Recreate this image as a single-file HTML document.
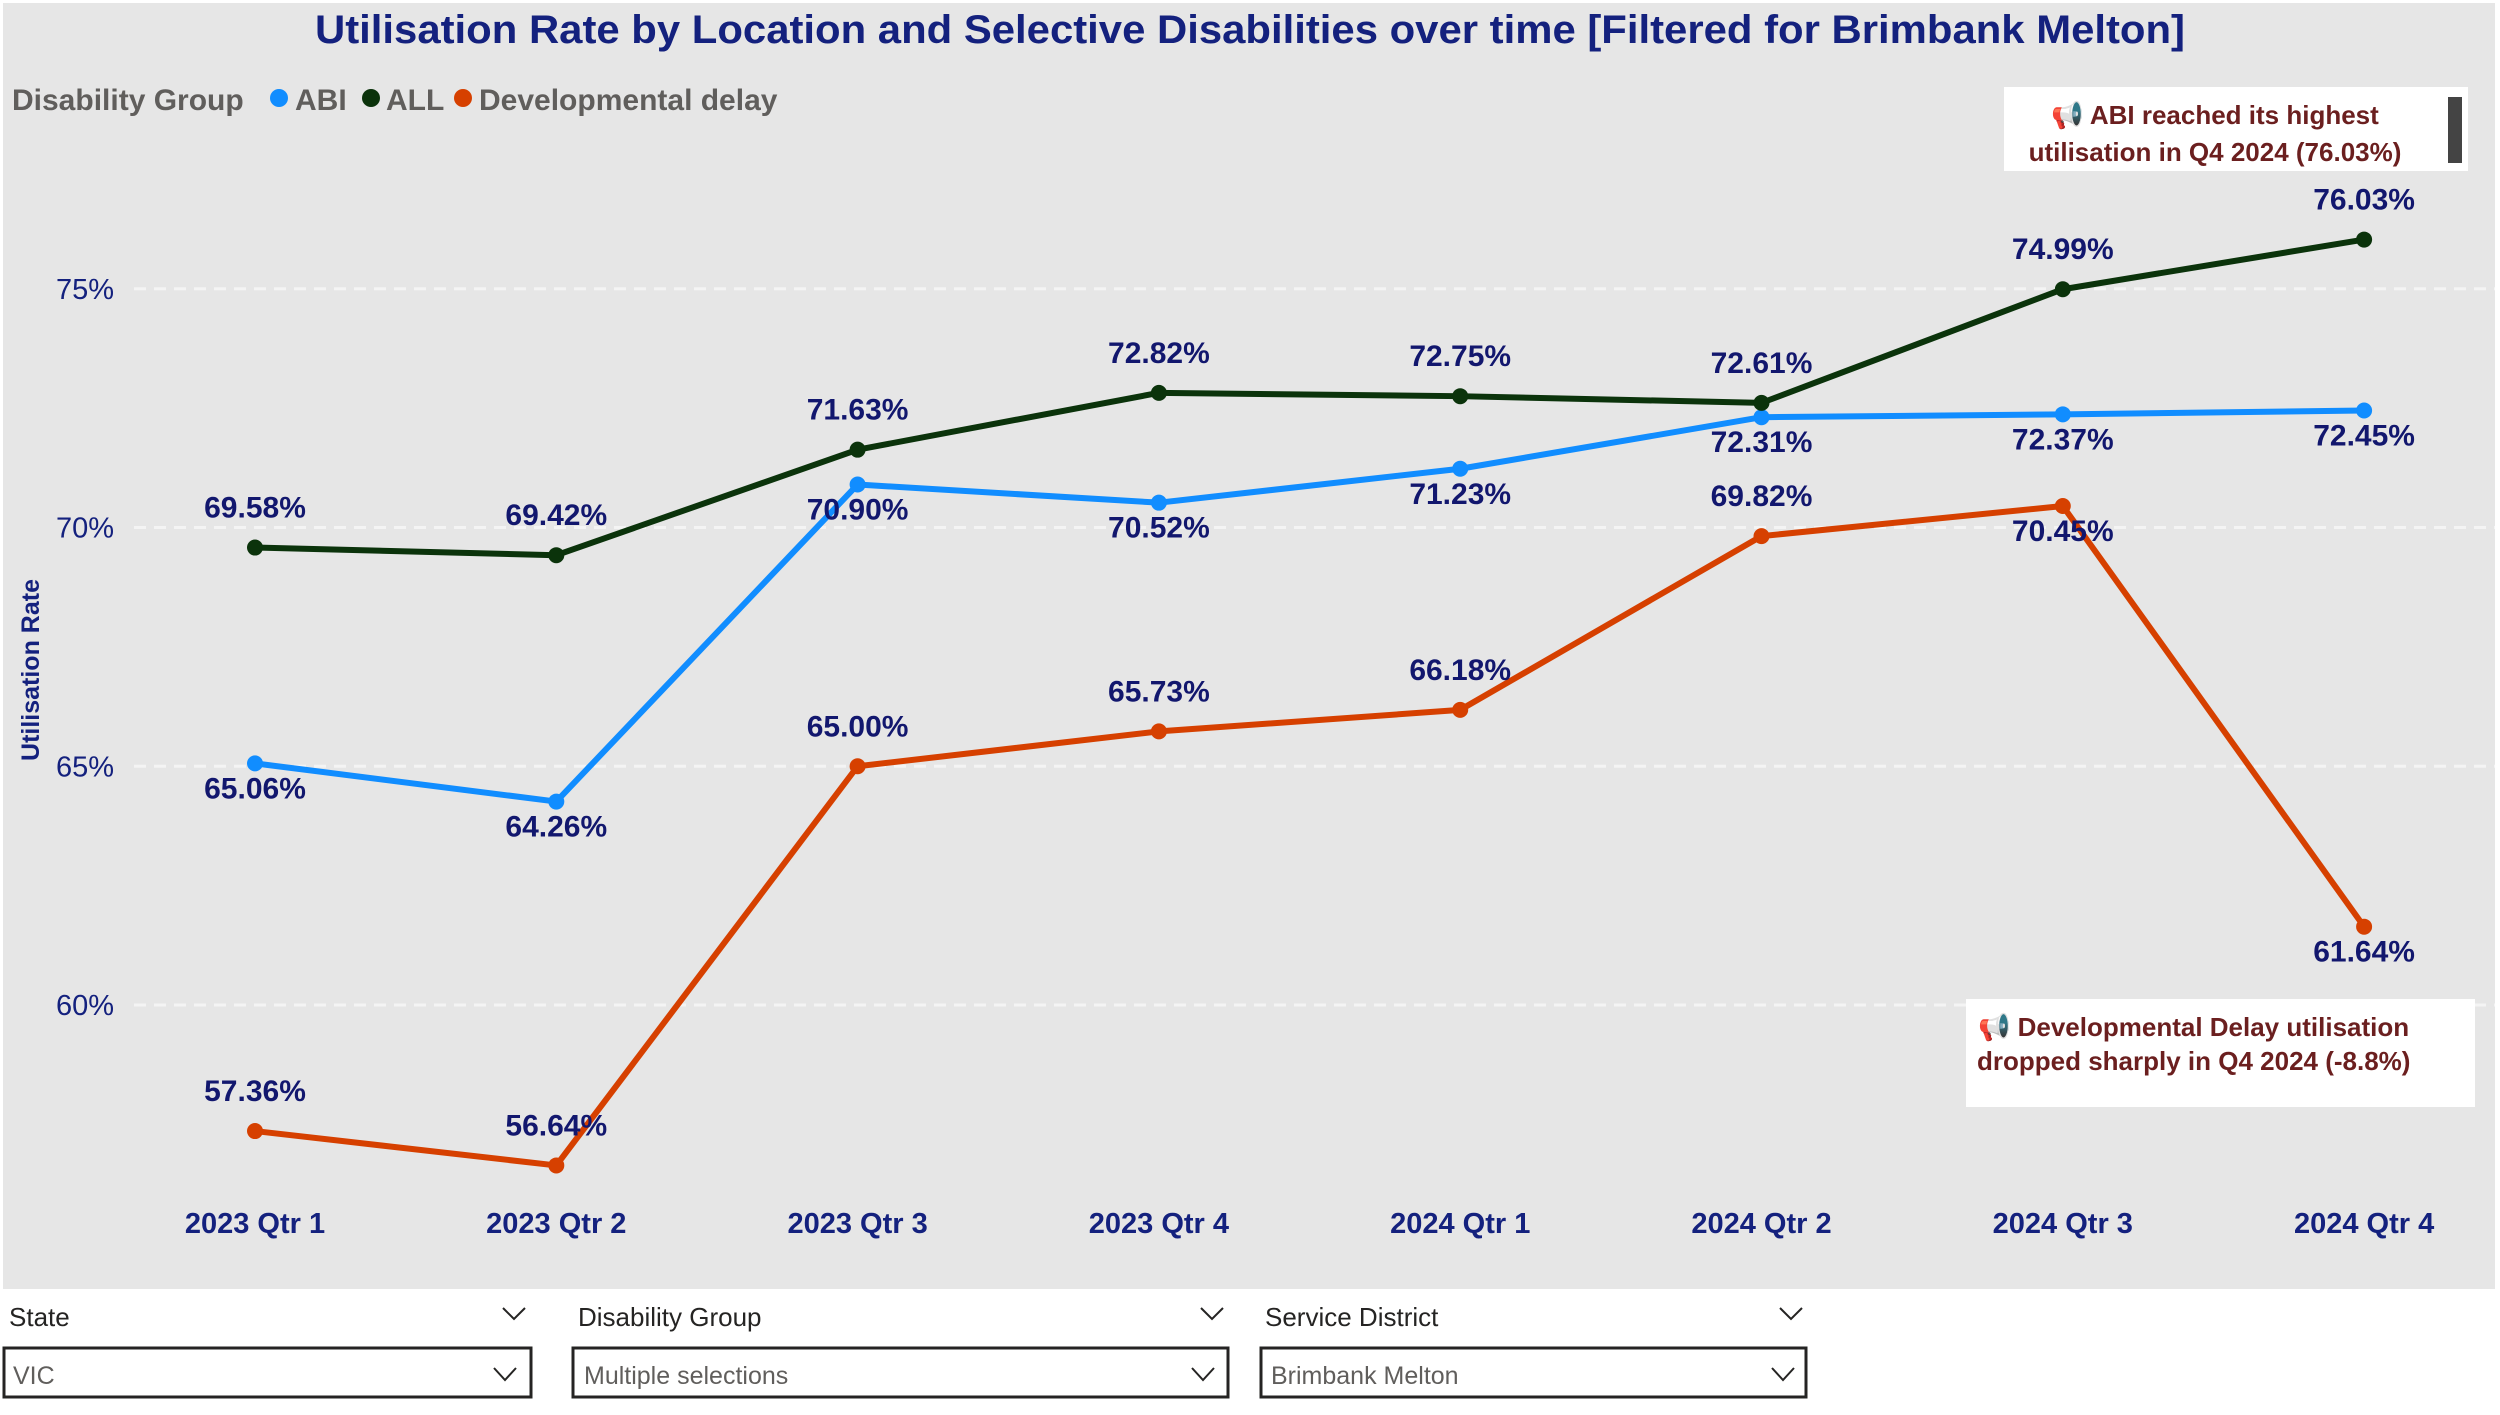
<!DOCTYPE html>
<html><head><meta charset="utf-8"><style>
body{margin:0;width:2500px;height:1415px;background:#fff;overflow:hidden;font-family:"Liberation Sans",sans-serif}
svg{position:absolute;left:0;top:0}
</style></head><body>
<svg width="2500" height="1415" viewBox="0 0 2500 1415">
<rect x="3" y="3" width="2492" height="1286" fill="#e6e6e6"/>
<text x="1250" y="43" text-anchor="middle" font-size="40" font-weight="bold" fill="#14217e" textLength="1870" lengthAdjust="spacingAndGlyphs">Utilisation Rate by Location and Selective Disabilities over time [Filtered for Brimbank Melton]</text>
<g font-size="30" font-weight="bold" fill="#605e5c">
<text x="12" y="110">Disability Group</text>
<circle cx="279" cy="98" r="9" fill="#118dff"/>
<text x="295" y="110">ABI</text>
<circle cx="371" cy="98" r="9" fill="#0b330b"/>
<text x="386" y="110">ALL</text>
<circle cx="463" cy="98" r="9" fill="#d64000"/>
<text x="479" y="110">Developmental delay</text>
</g>
<text transform="translate(39,670) rotate(-90)" text-anchor="middle" font-size="25" font-weight="bold" fill="#14217e">Utilisation Rate</text>
<g id="grid"></g><g id="xaxis"></g><g id="series"></g>
<g>
<rect x="2004" y="87" width="464" height="84" fill="#fff"/>
<rect x="2448" y="97" width="14" height="66" fill="#444"/>
<text x="2215" y="124" text-anchor="middle" font-size="26" font-weight="bold" fill="#6b1f1f">📢 ABI reached its highest</text>
<text x="2215" y="161" text-anchor="middle" font-size="26" font-weight="bold" fill="#6b1f1f">utilisation in Q4 2024 (76.03%)</text>
</g>
<g>
<rect x="1966" y="999" width="509" height="108" fill="#fff"/>
<text x="1978" y="1036" font-size="26" font-weight="bold" fill="#6b1f1f">📢 Developmental Delay utilisation</text>
<text x="1977" y="1070" font-size="26" font-weight="bold" fill="#6b1f1f">dropped sharply in Q4 2024 (-8.8%)</text>
</g>
<g font-size="26" fill="#252423">
<text x="9" y="1326">State</text>
<path d="M503 1308 l11 11 l11 -11" stroke="#252423" stroke-width="2" fill="none"/>
<rect x="4" y="1348" width="527" height="49" fill="#fff" stroke="#252423" stroke-width="3"/>
<text x="13" y="1384" fill="#605e5c" font-size="25">VIC</text>
<path d="M494 1368 l11 12 l11 -12" stroke="#252423" stroke-width="2" fill="none"/>
<text x="578" y="1326">Disability Group</text>
<path d="M1201 1308 l11 11 l11 -11" stroke="#252423" stroke-width="2" fill="none"/>
<rect x="573" y="1348" width="655" height="49" fill="#fff" stroke="#252423" stroke-width="3"/>
<text x="584" y="1384" fill="#605e5c" font-size="25">Multiple selections</text>
<path d="M1192 1368 l11 12 l11 -12" stroke="#252423" stroke-width="2" fill="none"/>
<text x="1265" y="1326">Service District</text>
<path d="M1780 1308 l11 11 l11 -11" stroke="#252423" stroke-width="2" fill="none"/>
<rect x="1261" y="1348" width="545" height="49" fill="#fff" stroke="#252423" stroke-width="3"/>
<text x="1271" y="1384" fill="#605e5c" font-size="25">Brimbank Melton</text>
<path d="M1772 1368 l11 12 l11 -12" stroke="#252423" stroke-width="2" fill="none"/>
</g>
</svg>
<script>
const categories=["2023 Qtr 1","2023 Qtr 2","2023 Qtr 3","2023 Qtr 4","2024 Qtr 1","2024 Qtr 2","2024 Qtr 3","2024 Qtr 4"];
const abiValues=[65.06,64.26,70.90,70.52,71.23,72.31,72.37,72.45];
const allValues=[69.58,69.42,71.63,72.82,72.75,72.61,74.99,76.03];
const devValues=[57.36,56.64,65.00,65.73,66.18,69.82,70.45,61.64];
const yTicks=[60,65,70,75];
const abiLabelBelow=[1,1,1,1,1,1,1,1];
const allLabelBelow=[0,0,0,0,0,0,0,0];
const devLabelBelow=[0,0,0,0,0,0,1,1];
const NS="http://www.w3.org/2000/svg";
const xS=i=>255+i*301.3;
const yS=v=>527.5-(v-70)*47.75;
function mk(tag,attrs,parent){const e=document.createElementNS(NS,tag);for(const k in attrs)e.setAttribute(k,attrs[k]);parent.appendChild(e);return e;}
const grid=document.getElementById('grid');
yTicks.forEach(t=>{
 const l=mk('line',{x1:134,x2:2495,y1:yS(t),y2:yS(t),stroke:'#f4f4f4','stroke-width':3,'stroke-dasharray':'12 8'},grid);
 
 
 const tx=mk('text',{x:114,y:yS(t)+10,'text-anchor':'end','font-size':29,fill:'#14217e'},grid);
 tx.textContent=t+'%';
 
 
});
const xa=document.getElementById('xaxis');
categories.forEach((c,i)=>{
 const tx=mk('text',{x:xS(i),y:1233,'text-anchor':'middle','font-size':29,'font-weight':'bold',fill:'#14217e'},xa);
 tx.textContent=c;
 
 
});
const sg=document.getElementById('series');
function series(vals,color,below,name){
 const g=mk('g',{},sg);
 
 
 const pl=mk('polyline',{points:vals.map((v,i)=>xS(i)+','+yS(v)).join(' '),fill:'none',stroke:color,'stroke-width':6,'stroke-linejoin':'round'},g);
 
 
 vals.forEach((v,i)=>{
  const c=mk('circle',{cx:xS(i),cy:yS(v),r:8,fill:color},g);
  
  
 });
 vals.forEach((v,i)=>{
  const t=mk('text',{x:xS(i),y:yS(v)+(below[i]?35:-30),'text-anchor':'middle','font-size':30,'font-weight':'bold',fill:'#12176e'},g);
  t.textContent=v.toFixed(2)+'%';
  
  
 });
}
series(devValues,'#d64000',devLabelBelow,'developmental-delay');
series(abiValues,'#118dff',abiLabelBelow,'abi');
series(allValues,'#0b330b',allLabelBelow,'all');
</script>
</body></html>
